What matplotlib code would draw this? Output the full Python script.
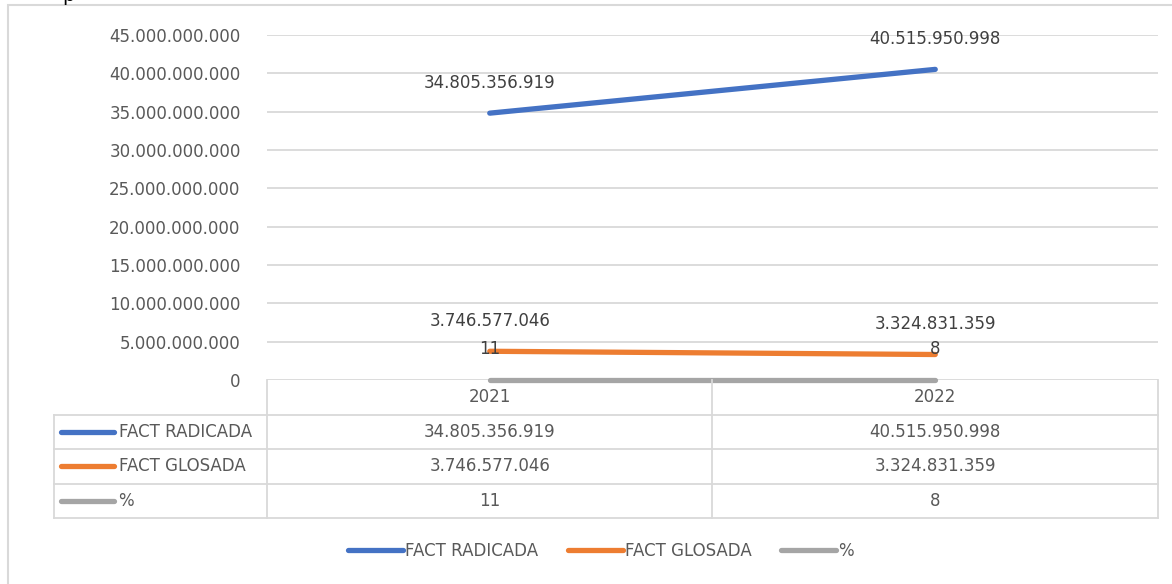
import matplotlib.pyplot as plt
from matplotlib.patches import Rectangle
from matplotlib.lines import Line2D

# datos
anios = ["2021", "2022"]
radicada = [34805356919, 40515950998]
glosada = [3746577046, 3324831359]
porcentaje = [11, 8]
series = ["FACT RADICADA", "FACT GLOSADA", "%"]
colores = ["#4472C4", "#ED7D31", "#A5A5A5"]
valores = [radicada, glosada, porcentaje]

GRIS = "#595959"
LINEA = "#D9D9D9"
W, H = 1172, 584

def miles(v):
    return f"{v:,.0f}".replace(",", ".")

plt.rcParams['font.family'] = ['DejaVu Sans']
plt.rcParams['font.size'] = 12

fig = plt.figure(figsize=(W / 100, H / 100), dpi=100)

# borde del grafico
fig.patches.append(Rectangle((8 / W, -0.1), 1.2, 1 - 5 / H + 0.1, transform=fig.transFigure,
                             fill=False, edgecolor=LINEA, linewidth=1.5))

ax = fig.add_axes([267 / W, 1 - 380 / H, 891 / W, 345 / H])
x = range(len(anios))
for vals, c in zip(valores, colores):
    ax.plot(x, vals, color=c, linewidth=3.8, solid_capstyle='round', zorder=3, clip_on=False)
    for i, v in zip(x, vals):
        ax.annotate(miles(v), (i, v), xytext=(0, 22), textcoords='offset points',
                    ha='center', va='center', color="#404040", fontsize=12, zorder=4)

ax.set_xlim(-0.5, 1.5)
ax.set_ylim(0, 45e9)
ax.set_yticks([i * 5e9 for i in range(10)])
ax.set_yticklabels([miles(t) for t in ax.get_yticks()], color=GRIS)
ax.tick_params(axis='y', length=0, pad=19)
ax.set_xticks([])
ax.grid(axis='y', color=LINEA, linewidth=1.3)
for s in ax.spines.values():
    s.set_visible(False)
ax.set_axisbelow(True)

# tabla de datos
x0 = -0.5 - 213 / 445.5
tax = fig.add_axes([54 / W, 1 - 518 / H, 1104 / W, 138 / H])
tax.set_xlim(x0, 1.5)
tax.set_ylim(4, 0)
tax.axis('off')
lw = 1.3
for r in range(1, 5):
    tax.plot([x0, 1.5], [r, r], color=LINEA, linewidth=lw, clip_on=False)
tax.plot([x0, x0], [1, 4], color=LINEA, linewidth=lw, clip_on=False)
for xv in [-0.5, 0.5, 1.5]:
    tax.plot([xv, xv], [0, 4], color=LINEA, linewidth=lw, clip_on=False)
for i, a in enumerate(anios):
    tax.text(i, 0.5, a, ha='center', va='center', color=GRIS)
for r, (nombre, vals, c) in enumerate(zip(series, valores, colores), start=1):
    tax.plot([x0 + 0.016, x0 + 0.135], [r + 0.5, r + 0.5], color=c, linewidth=3.8,
             solid_capstyle='round')
    tax.text(x0 + 0.145, r + 0.5, nombre, ha='left', va='center', color=GRIS)
    for i, v in enumerate(vals):
        tax.text(i, r + 0.5, miles(v), ha='center', va='center', color=GRIS)

# leyenda
handles = [Line2D([], [], color=c, linewidth=3.8, solid_capstyle='round') for c in colores]
leg = fig.legend(handles, series, loc='center', bbox_to_anchor=(601 / W, 1 - 551 / H),
                 ncol=3, frameon=False, handlelength=3.3, handletextpad=0.1,
                 columnspacing=1.8)
for t in leg.get_texts():
    t.set_color(GRIS)

# resto del titulo, cortado por arriba
fig.text(62 / W, 1.0 - 5 / H, "p", fontsize=14, va='bottom', color='black')

fig.savefig("out.png", dpi=100)
